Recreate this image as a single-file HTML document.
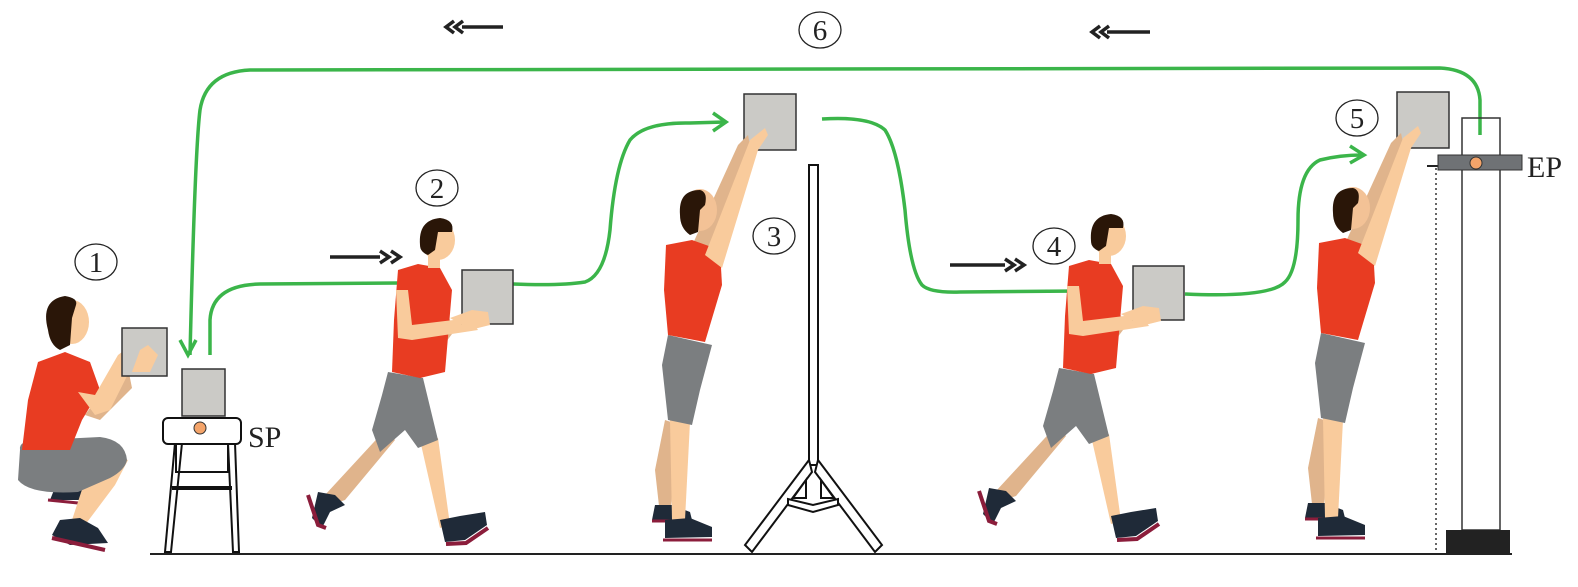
<!DOCTYPE html>
<html><head><meta charset="utf-8"><style>
html,body{margin:0;padding:0;background:#fff;width:1578px;height:587px;overflow:hidden}
svg text{font-family:"Liberation Serif",serif;fill:#222}
</style></head><body>
<svg width="1578" height="587" viewBox="0 0 1578 587" xmlns="http://www.w3.org/2000/svg">
<defs>
<g id="walk">
  <path d="M385,430 L395,440 L345,500 L330,505 L325,495 Z" fill="#e0b48c"/>
  <path d="M318,492 L335,495 L345,505 L330,512 L322,528 L312,518 Z" fill="#1f2a38"/>
  <path d="M308,495 L318,525 L326,528" stroke="#8b1d3b" stroke-width="4" fill="none"/>
  <path d="M420,440 L438,438 L450,525 L440,528 Z" fill="#f9cb9c"/>
  <path d="M440,520 L460,516 L485,512 L487,525 L465,540 L445,542 Z" fill="#1f2a38"/>
  <path d="M446,544 L466,543 L488,528" stroke="#8b1d3b" stroke-width="4" fill="none"/>
  <path d="M388,372 L423,378 L438,440 L418,448 L405,430 L380,452 L372,430 L382,395 Z" fill="#7b7e80"/>
  <path d="M440,300 L455,330 L440,350 L430,355 L432,340 Z" fill="#e0b48c"/>
  <path d="M398,270 L418,264 L440,268 L452,290 L445,372 L420,378 L392,372 L394,320 Z" fill="#e83c22"/>
  <path d="M428,252 L440,252 L440,268 L428,268 Z" fill="#f9cb9c"/>
  <ellipse cx="438" cy="240" rx="17" ry="20" fill="#f9cb9c"/>
  <path d="M420,245 Q418,220 440,218 Q455,220 452,232 L438,232 L435,250 L428,255 Q420,252 420,245 Z" fill="#2a1608"/>
  <path d="M396,290 L408,290 L412,325 L470,318 L478,330 L412,340 L398,338 Z" fill="#f9cb9c"/>
</g>
<g id="reach">
  <path d="M665,420 L680,425 L670,515 L660,515 L655,470 Z" fill="#e0b48c"/>
  <path d="M655,505 L672,505 L690,512 L692,520 L675,522 L652,520 Z" fill="#1f2a38"/>
  <path d="M652,521 L690,521" stroke="#8b1d3b" stroke-width="3"/>
  <path d="M670,420 L690,422 L685,520 L672,520 Z" fill="#f9cb9c"/>
  <path d="M665,520 L690,518 L712,527 L712,537 L665,538 Z" fill="#1f2a38"/>
  <path d="M663,540 L712,540" stroke="#8b1d3b" stroke-width="3"/>
  <path d="M668,335 L712,345 L700,390 L692,425 L668,420 L662,365 Z" fill="#7b7e80"/>
  <path d="M690,250 L738,145 L748,135 L750,145 L712,260 Z" fill="#e0b48c"/>
  <path d="M666,245 L692,240 L720,250 L722,285 L705,342 L668,335 L664,290 Z" fill="#e83c22"/>
  <path d="M705,255 L750,140 L765,128 L768,135 L758,150 L722,268 Z" fill="#f9cb9c"/>
  <ellipse cx="700" cy="210" rx="17" ry="21" fill="#f3c296"/>
  <path d="M680,215 Q678,190 700,190 Q708,192 705,205 L700,210 L698,232 L690,235 Q680,228 680,215 Z" fill="#2a1608"/>
</g>
</defs>

<line x1="150" y1="554" x2="1512" y2="554" stroke="#222" stroke-width="2"/>

<g stroke="#222" stroke-width="3.5" fill="none">
  <line x1="462" y1="27" x2="503" y2="27"/>
  <polyline points="454,21 446,27 454,33"/><polyline points="463,21 455,27 463,33"/>
  <line x1="1107" y1="32" x2="1150" y2="32"/>
  <polyline points="1100,26 1092,32 1100,38"/><polyline points="1109,26 1101,32 1109,38"/>
  <line x1="330" y1="257" x2="380" y2="257"/>
  <polyline points="380,251 389,257 380,263"/><polyline points="391,251 400,257 391,263"/>
  <line x1="950" y1="265" x2="1005" y2="265"/>
  <polyline points="1005,259 1014,265 1005,271"/><polyline points="1015,259 1024,265 1015,271"/>
</g>

<g stroke="#3bb54a" stroke-width="3.5" fill="none">
  <path d="M210,355 L210,320 Q212,285 260,284 L400,283"/>
  <path d="M513,284 Q560,286 585,282 Q605,275 610,230 Q615,165 630,140 Q645,122 690,123 L725,122"/>
  <polyline points="713,113 726,122 713,131"/>
  <path d="M822,119 Q870,116 885,130 Q898,150 905,210 Q910,270 922,285 Q930,293 960,292 L1080,291"/>
  <path d="M1185,294 Q1270,298 1285,282 Q1298,270 1298,220 Q1298,170 1320,160 Q1340,155 1362,155"/>
  <polyline points="1350,146 1364,155 1350,163"/>
  <path d="M1480,135 L1480,100 Q1478,70 1440,68 L250,70 Q206,72 200,110 Q195,150 190,355"/>
  <polyline points="180,340 188,355 196,340"/>
</g>

<g fill="#fff" stroke="#222" stroke-width="1.3">
  <ellipse cx="96" cy="262" rx="21" ry="18"/>
  <ellipse cx="437" cy="188" rx="21" ry="18"/>
  <ellipse cx="774" cy="236" rx="21" ry="18"/>
  <ellipse cx="1054" cy="246" rx="21" ry="18"/>
  <ellipse cx="1357" cy="118" rx="21" ry="18"/>
  <ellipse cx="820" cy="30" rx="21" ry="18"/>
</g>
<g font-size="29" text-anchor="middle">
  <text x="96" y="272">1</text><text x="437" y="198">2</text><text x="774" y="246">3</text>
  <text x="1054" y="256">4</text><text x="1357" y="128">5</text><text x="820" y="40">6</text>
</g>

<g fill="#fff" stroke="#111" stroke-width="2">
  <path d="M175,443 L165,552 L171,552 L182,443 Z"/>
  <path d="M228,443 L233,552 L239,552 L235,443 Z"/>
  <rect x="176" y="443" width="52" height="29" fill="none"/>
  <rect x="173" y="487" width="58" height="2" fill="#111"/>
  <rect x="163" y="418" width="78" height="26" rx="5"/>
</g>
<circle cx="200" cy="428" r="6" fill="#f4a46a" stroke="#333" stroke-width="1"/>
<rect x="182" y="369" width="43" height="47" fill="#cbcac6" stroke="#333" stroke-width="1.5"/>
<text x="248" y="447" font-size="30">SP</text>

<g fill="#fff" stroke="#111" stroke-width="2">
  <rect x="809" y="165" width="9" height="300"/>
  <path d="M809,460 L745,545 L752,552 L812,472 Z"/>
  <path d="M818,460 L882,545 L875,552 L815,472 Z"/>
  <path d="M788,505 L813,512 L838,505 L838,499 L813,505 L788,499 Z"/>
  <path d="M806,480 L793,498 L806,498 Z"/><path d="M821,480 L834,498 L821,498 Z"/>
</g>

<line x1="1436" y1="168" x2="1436" y2="553" stroke="#333" stroke-width="1.5" stroke-dasharray="2,3"/>
<line x1="1427" y1="166" x2="1445" y2="166" stroke="#222" stroke-width="2"/>
<rect x="1462" y="118" width="38" height="412" fill="none" stroke="#333" stroke-width="1.5"/>
<rect x="1446" y="530" width="64" height="24" fill="#222"/>
<rect x="1438" y="155" width="84" height="15" fill="#6f7275" stroke="#333" stroke-width="1"/>
<circle cx="1476" cy="163" r="6" fill="#f4a46a" stroke="#333" stroke-width="1"/>
<text x="1527" y="177" font-size="30">EP</text>

<g>
  <path d="M58,480 L90,475 L80,500 L50,500 Z" fill="#1f2a38"/>
  <path d="M48,500 L78,503" stroke="#8b1d3b" stroke-width="3"/>
  <path d="M95,450 L128,460 L115,485 L85,525 L72,520 Z" fill="#f9cb9c"/>
  <path d="M60,520 L80,518 L98,528 L108,543 L70,545 L52,535 Z" fill="#1f2a38"/>
  <path d="M52,538 L105,550" stroke="#8b1d3b" stroke-width="4"/>
  <path d="M20,450 Q18,440 40,440 L100,437 Q125,440 127,460 Q125,470 110,478 L78,492 Q30,495 18,480 Z" fill="#7b7e80"/>
  <path d="M110,380 L128,368 L132,388 L100,420 L85,415 Z" fill="#e0b48c"/>
  <path d="M38,362 L65,352 L90,362 L100,390 L82,420 L70,450 L22,450 L28,400 Z" fill="#e83c22"/>
  <path d="M78,392 L95,395 L118,355 L138,340 L152,345 L160,355 L150,368 L130,370 L110,410 L95,415 Z" fill="#f9cb9c"/>
  <ellipse cx="72" cy="322" rx="17" ry="22" fill="#f9cb9c"/>
  <path d="M48,330 Q40,300 65,296 Q78,298 76,305 L72,318 L70,345 L60,350 Q50,345 48,330 Z" fill="#2a1608"/>
</g>
<rect x="122" y="328" width="45" height="48" fill="#cbcac6" stroke="#333" stroke-width="1.5"/>
<path d="M132,372 L140,350 L148,345 L158,355 L150,372 Z" fill="#f9cb9c"/>

<use href="#walk"/>
<rect x="462" y="270" width="51" height="54" fill="#cbcac6" stroke="#333" stroke-width="1.5"/>
<path d="M450,318 L472,310 L488,312 L490,325 L470,330 Z" fill="#f9cb9c"/>

<rect x="744" y="94" width="52" height="56" fill="#cbcac6" stroke="#333" stroke-width="1.5"/>
<use href="#reach"/>

<g transform="translate(671,-4)">
  <use href="#walk"/>
  <rect x="462" y="270" width="51" height="54" fill="#cbcac6" stroke="#333" stroke-width="1.5"/>
  <path d="M450,318 L472,310 L488,312 L490,325 L470,330 Z" fill="#f9cb9c"/>
</g>

<g transform="translate(653,-2)">
  <rect x="744" y="94" width="52" height="56" fill="#cbcac6" stroke="#333" stroke-width="1.5"/>
  <use href="#reach"/>
</g>
</svg>
</body></html>
